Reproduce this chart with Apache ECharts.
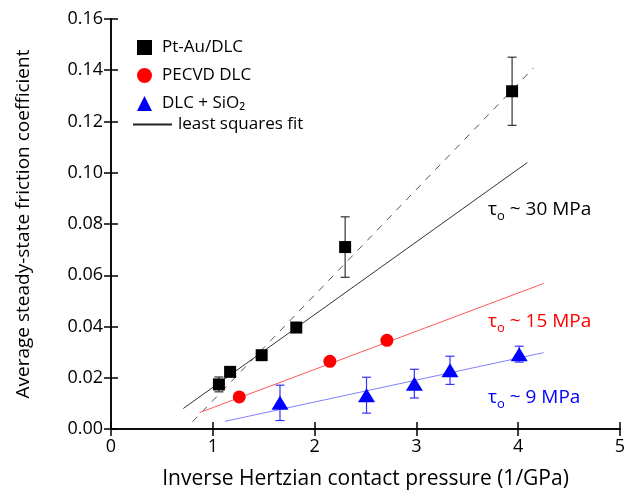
<!DOCTYPE html>
<html>
<head>
<meta charset="utf-8">
<script src="https://cdn.jsdelivr.net/npm/echarts@6/dist/echarts.min.js"></script>
<style>
  html, body { margin: 0; padding: 0; background: #fff; }
  #chart { width: 628px; height: 491px; }
</style>
</head>
<body>
<div id="chart"></div>
<script>
var FONT = '"Open Sans", "Noto Sans", "DejaVu Sans", sans-serif';

// Pt-Au/DLC
var ptAuX = [1.06, 1.17, 1.48, 1.82, 2.30, 3.94];
var ptAuY = [0.0174, 0.0223, 0.0288, 0.0396, 0.0710, 0.1318];
var ptAuErr = [0.0029, 0, 0, 0, 0.0118, 0.0133];

// PECVD DLC
var pecvdX = [1.26, 2.15, 2.71];
var pecvdY = [0.0125, 0.0264, 0.0346];

// DLC + SiO2
var sio2X = [1.66, 2.51, 2.98, 3.33, 4.01];
var sio2Y = [0.0102, 0.0132, 0.0177, 0.0229, 0.0292];
var sio2Err = [0.0069, 0.0070, 0.0056, 0.0055, 0.0031];

// least squares fits, end points [x, y]
var fitPtAu = [[0.71, 0.0080], [4.09, 0.1040]];
var fitPtAuDash = [[0.80, 0.0028], [4.15, 0.1409]];
var fitPecvd = [[0.87, 0.0064], [4.25, 0.0568]];
var fitSio2 = [[1.12, 0.0030], [4.25, 0.0298]];

// axes
var xMin = 0, xMax = 5, xStep = 1;
var yMin = 0, yMax = 0.16, yStep = 0.02;

function pairs(xs, ys) {
  var out = [];
  for (var i = 0; i < xs.length; i++) out.push([xs[i], ys[i]]);
  return out;
}

function errorBars(xs, ys, errs, color) {
  var data = [];
  for (var i = 0; i < xs.length; i++) {
    if (errs[i] > 0) data.push([xs[i], ys[i] - errs[i], ys[i] + errs[i]]);
  }
  return {
    type: 'custom',
    silent: true,
    z: 1,
    data: data,
    encode: { x: 0, y: [1, 2] },
    renderItem: function (params, api) {
      var lo = api.coord([api.value(0), api.value(1)]);
      var hi = api.coord([api.value(0), api.value(2)]);
      var w = 4.5;
      var st = { stroke: color, lineWidth: 1.2 };
      return {
        type: 'group',
        children: [
          { type: 'line', shape: { x1: lo[0], y1: lo[1], x2: hi[0], y2: hi[1] }, style: st },
          { type: 'line', shape: { x1: lo[0] - w, y1: lo[1], x2: lo[0] + w, y2: lo[1] }, style: st },
          { type: 'line', shape: { x1: hi[0] - w, y1: hi[1], x2: hi[0] + w, y2: hi[1] }, style: st }
        ]
      };
    }
  };
}

function tauLabel(value, color) {
  return {
    text: '{a|τ}{s|o}{a| ~ ' + value + ' MPa}',
    verticalAlign: 'middle',
    rich: {
      a: { fontFamily: FONT, fontSize: 19, fill: color, color: color, verticalAlign: 'middle' },
      s: { fontFamily: FONT, fontSize: 13, fill: color, color: color, verticalAlign: 'middle', padding: [14, 0, 0, 0] }
    }
  };
}

var chart = echarts.init(document.getElementById('chart'));

var axisLine = { show: true, lineStyle: { color: '#000', width: 1.5 } };
var axisTick = { show: true, inside: true, length: 7, lineStyle: { color: '#000', width: 1.5 } };

var option = {
  animation: false,
  backgroundColor: '#fff',
  grid: { left: 111, right: 8, top: 19, bottom: 62, outerBoundsMode: 'none', containLabel: false },
  xAxis: [
    {
      type: 'value', min: xMin, max: xMax, interval: xStep,
      name: 'Inverse Hertzian contact pressure (1/GPa)',
      nameLocation: 'middle', nameGap: 40,
      nameTextStyle: { fontFamily: FONT, fontSize: 21, color: '#000' },
      axisLine: axisLine, axisTick: axisTick, splitLine: { show: false },
      axisLabel: { fontFamily: FONT, fontSize: 18, color: '#000', margin: 9 }
    },
    {
      type: 'value', position: 'top', min: xMin, max: xMax, interval: xStep,
      axisLine: axisLine, axisTick: axisTick, splitLine: { show: false },
      axisLabel: { show: false }
    }
  ],
  yAxis: [
    {
      type: 'value', min: yMin, max: yMax, interval: yStep,
      name: 'Average steady-state friction coefficient',
      nameLocation: 'middle', nameGap: 78,
      nameTextStyle: { fontFamily: FONT, fontSize: 19, color: '#000' },
      axisLine: axisLine, axisTick: axisTick, splitLine: { show: false },
      axisLabel: {
        fontFamily: FONT, fontSize: 18, color: '#000', margin: 8,
        formatter: function (v) { return v.toFixed(2); }
      }
    },
    {
      type: 'value', position: 'right', min: yMin, max: yMax, interval: yStep,
      axisLine: axisLine, axisTick: axisTick, splitLine: { show: false },
      axisLabel: { show: false }
    }
  ],
  legend: [
    {
      orient: 'vertical', left: 132, top: 34,
      itemWidth: 15, itemHeight: 15, itemGap: 11,
      selectedMode: false,
      textStyle: { fontFamily: FONT, fontSize: 17, color: '#000', lineHeight: 15, padding: [0, 0, 0, 5] },
      data: ['Pt-Au/DLC', 'PECVD DLC', 'DLC + SiO₂']
    },
    {
      orient: 'vertical', left: 128, top: 111,
      itemWidth: 39, itemHeight: 2, icon: 'rect',
      selectedMode: false,
      textStyle: { fontFamily: FONT, fontSize: 17, color: '#000', lineHeight: 15, padding: [0, 0, 0, 1] },
      data: ['least squares fit']
    }
  ],
  graphic: [
    { type: 'text', left: 488, top: 200, style: tauLabel('30', '#000') },
    { type: 'text', left: 488, top: 312, style: tauLabel('15', '#ff0000') },
    { type: 'text', left: 488, top: 388, style: tauLabel('9', '#0000ff') }
  ],
  series: [
    {
      name: 'least squares fit', type: 'line', data: fitPtAu, symbol: 'none', z: 2,
      color: '#222', lineStyle: { color: '#333', width: 1 }
    },
    {
      type: 'line', data: fitPtAuDash, symbol: 'none', z: 2,
      lineStyle: { color: '#555', width: 1, type: [7, 7] }
    },
    {
      type: 'line', data: fitPecvd, symbol: 'none', z: 2,
      lineStyle: { color: '#ff5a5a', width: 1 }
    },
    {
      type: 'line', data: fitSio2, symbol: 'none', z: 2,
      lineStyle: { color: '#8080ff', width: 1 }
    },
    errorBars(ptAuX, ptAuY, ptAuErr, '#333'),
    errorBars(sio2X, sio2Y, sio2Err, '#3333ff'),
    {
      name: 'Pt-Au/DLC', type: 'scatter', data: pairs(ptAuX, ptAuY), z: 3,
      symbol: 'rect', symbolSize: 12, itemStyle: { color: '#000', opacity: 1 }
    },
    {
      name: 'PECVD DLC', type: 'scatter', data: pairs(pecvdX, pecvdY), z: 3,
      symbol: 'circle', symbolSize: 13, itemStyle: { color: '#ff0000', opacity: 1 }
    },
    {
      name: 'DLC + SiO₂', type: 'scatter', data: pairs(sio2X, sio2Y), z: 3,
      symbol: 'triangle', symbolSize: [17, 14], itemStyle: { color: '#0000ff', opacity: 1 }
    }
  ]
};

chart.setOption(option);
</script>
</body>
</html>
